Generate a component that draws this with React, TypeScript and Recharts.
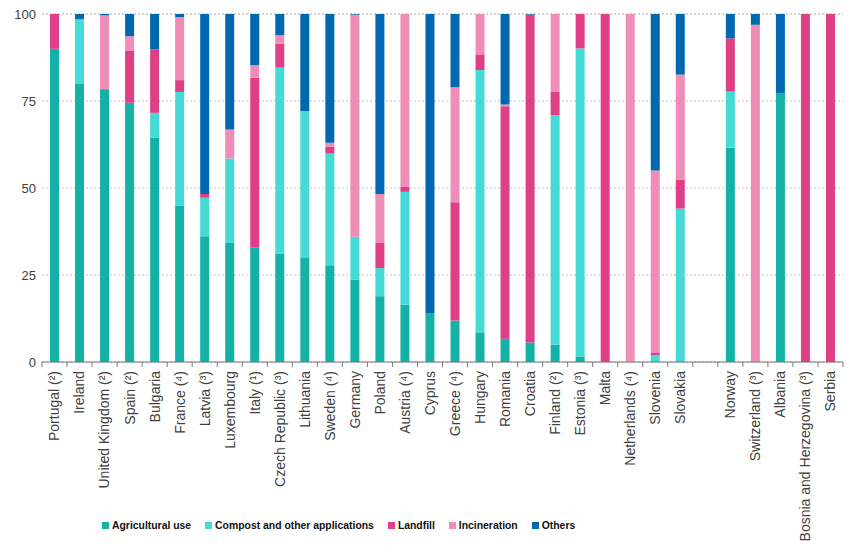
import { BarChart, Bar, XAxis, YAxis, CartesianGrid, Legend } from "recharts"

const countries = [
  "Portugal (²)", "Ireland", "United Kingdom (²)", "Spain (²)", "Bulgaria", "France (⁴)",
  "Latvia (³)", "Luxembourg", "Italy (¹)", "Czech Republic (³)", "Lithuania", "Sweden (⁴)",
  "Germany", "Poland", "Austria (⁴)", "Cyprus", "Greece (⁴)", "Hungary", "Romania", "Croatia",
  "Finland (²)", "Estonia (³)", "Malta", "Netherlands (⁴)", "Slovenia", "Slovakia", "",
  "Norway", "Switzerland (³)", "Albania", "Bosnia and Herzegovina (³)", "Serbia",
]

const agricultural = [90, 80, 78.3, 74.5, 64.4, 45, 36.1, 34.2, 33, 31.2, 29.9, 27.8, 23.7, 18.9, 16.5, 14.1, 11.9, 8.5, 6.7, 5.6, 5, 1.6, 0, 0, 0, 0, 0, 61.6, 0, 77.2, 0, 0]
const compost = [0, 18.5, 0, 0, 7.2, 32.6, 11.1, 24.3, 0, 53.4, 42.2, 32.1, 12.3, 8.1, 32.4, 0, 0, 75.4, 0, 0, 65.9, 88.5, 0, 0, 1.9, 44.1, 0, 16.1, 0, 0, 0, 0]
const landfill = [10, 0, 0.3, 14.9, 18.2, 3.4, 1.1, 0, 48.7, 6.9, 0, 2, 0, 7.2, 1.4, 0, 34, 4.5, 66.8, 94.2, 6.7, 9.9, 100, 0, 0.7, 8.3, 0, 15.3, 0, 0, 100, 100]
const incineration = [0, 0, 21, 4.2, 0, 18.1, 0, 8.3, 3.6, 2.4, 0, 1.1, 63.8, 14.1, 49.7, 0, 33.1, 11.6, 0.5, 0, 22.4, 0, 0, 100, 52.4, 30.2, 0, 0, 96.9, 0, 0, 0]
const others = [0, 1.5, 0.4, 6.4, 10.2, 0.9, 51.7, 33.2, 14.7, 6.1, 27.9, 37, 0.2, 51.7, 0, 85.9, 21, 0, 26, 0.2, 0, 0, 0, 0, 45, 17.4, 0, 7, 3.1, 22.8, 0, 0]

const yTicks = [0, 25, 50, 75, 100]

const series = [
  { key: "agricultural", name: "Agricultural use", color: "#14B1A6" },
  { key: "compost", name: "Compost and other applications", color: "#45DAD5" },
  { key: "landfill", name: "Landfill", color: "#DE3F87" },
  { key: "incineration", name: "Incineration", color: "#F08DB6" },
  { key: "others", name: "Others", color: "#0068AE" },
]

const data = countries.map((country, i) => ({
  country,
  agricultural: agricultural[i],
  compost: compost[i],
  landfill: landfill[i],
  incineration: incineration[i],
  others: others[i],
}))

const WIDTH = 857
const HEIGHT = 557
const LEFT = 42
const RIGHT = 14
const band = (WIDTH - LEFT - RIGHT) / countries.length

const XTick = ({ x, y, payload, index }: any) => (
  <g>
    <line x1={x - band / 2} x2={x - band / 2} y1={y} y2={y + 5} stroke="#777" />
    {index === countries.length - 1 && (
      <line x1={x + band / 2} x2={x + band / 2} y1={y} y2={y + 5} stroke="#777" />
    )}
    <text
      x={x}
      y={y + 9}
      transform={`rotate(-90 ${x} ${y + 9})`}
      textAnchor="end"
      dy="0.35em"
      fontSize={14}
      fill="#404040"
    >
      {payload.value}
    </text>
  </g>
)

// legend drawn by hand so the spacing matches the original
const LegendContent = () => (
  <div style={{ display: "flex", alignItems: "center", fontFamily: "'Liberation Sans', Arial, sans-serif", fontWeight: "bold", fontSize: 10.4, color: "#111" }}>
    {series.map((s) => (
      <div key={s.key} style={{ display: "flex", alignItems: "center", marginRight: 14 }}>
        <span style={{ display: "inline-block", width: 7, height: 7, background: s.color, marginRight: 3 }} />
        <span>{s.name}</span>
      </div>
    ))}
  </div>
)

export default function App() {
  return (
    <div style={{ position: "absolute", left: 0, top: 0, background: "#fff", fontFamily: "'Liberation Sans', Arial, sans-serif" }}>
      <BarChart width={WIDTH} height={HEIGHT} data={data} margin={{ top: 14, right: RIGHT, left: 0, bottom: 0 }}>
        <CartesianGrid vertical={false} strokeDasharray="2 2" stroke="#c4c4c4" />
        <XAxis
          dataKey="country"
          interval={0}
          height={195}
          tickSize={0}
          tickMargin={0}
          tickLine={false}
          axisLine={{ stroke: "#777" }}
          tick={<XTick />}
        />
        <YAxis
          domain={[0, 100]}
          ticks={yTicks}
          width={LEFT}
          axisLine={false}
          tickLine={false}
          tickSize={0}
          tickMargin={6}
          tick={{ fontSize: 13, fill: "#404040" }}
        />
        <Legend
          layout="horizontal"
          verticalAlign="middle"
          align="center"
          content={<LegendContent />}
          wrapperStyle={{ left: 102, top: 520, width: 700 }}
        />
        {series.map((s) => (
          <Bar key={s.key} dataKey={s.key} name={s.name} stackId="a" fill={s.color} barSize={9} isAnimationActive={false} />
        ))}
      </BarChart>
    </div>
  )
}
